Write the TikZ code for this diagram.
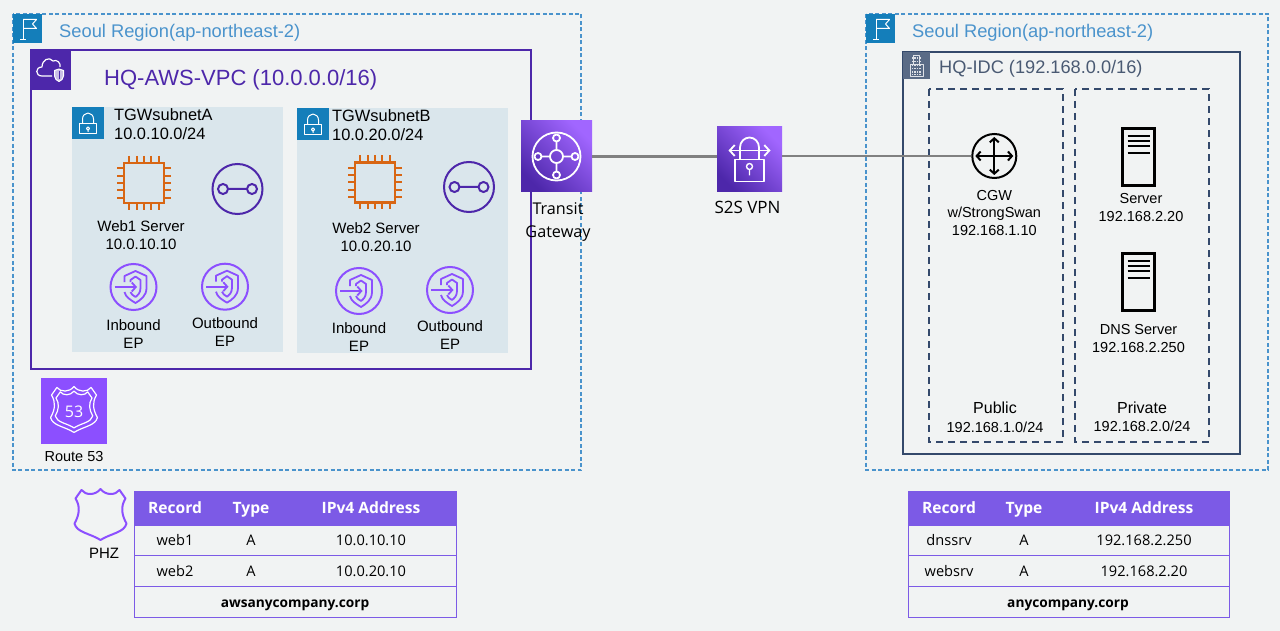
\documentclass[tikz,border=0pt]{standalone}
\usepackage{fontspec}
\setmainfont{Liberation Sans}
\newfontfamily\emberfont{Open Sans}
\usepackage{xcolor}
\usepackage{tikz}
\usetikzlibrary{positioning, arrows.meta, shapes.geometric}
\definecolor{pageGrey}{HTML}{F1F3F3}
\definecolor{regionBlue}{HTML}{4A93CC}
\definecolor{flagBlue}{HTML}{147EBA}
\definecolor{vpcPurple}{HTML}{4D27AA}
\definecolor{subnetBlue}{HTML}{DAE6EC}
\definecolor{chipOrange}{HTML}{D86613}
\definecolor{awsPurple}{HTML}{8C4FFF}
\definecolor{awsDeep}{HTML}{4D27AA}
\definecolor{awsLight}{HTML}{A166FF}
\definecolor{idcNavy}{HTML}{34496B}
\definecolor{idcGrey}{HTML}{5A6B86}
\definecolor{idcText}{HTML}{4A5A73}
\definecolor{wireGrey}{HTML}{808080}
\definecolor{tablePurple}{HTML}{7C5AE6}
\tikzset{
  regionbox/.style = {draw=regionBlue, line width=1.3pt, dash pattern=on 4pt off 2.5pt},
  vpcbox/.style    = {draw=vpcPurple, line width=2pt},
  subnetbox/.style = {fill=subnetBlue},
  idcbox/.style    = {draw=idcNavy, line width=2pt},
  zonebox/.style   = {draw=idcNavy, line width=1.5pt, dash pattern=on 7pt off 5pt},
  iconbox/.style   = {anchor=north west, inner sep=0pt, outer sep=0pt},
  gradbox/.style   = {iconbox, shade, bottom color=awsDeep, top color=awsLight, shading angle=-45},
  glyph/.style     = {draw=white, line width=1pt, line join=round},
  glyphb/.style    = {draw=white, line width=1.8pt, line join=round},
  epring/.style    = {circle, draw=awsPurple, line width=2pt, minimum size=46pt, inner sep=0pt},
  linkring/.style  = {circle, draw=vpcPurple, line width=2pt, minimum size=50pt, inner sep=0pt},
  chipbody/.style  = {draw=chipOrange, line width=2.6pt, minimum size=40pt, inner sep=0pt},
  srvbox/.style    = {draw=black, line width=2.6pt, minimum width=32pt, minimum height=57pt, inner sep=0pt},
  wire/.style      = {draw=wireGrey, line width=2.6pt},
  lbl/.style       = {inner sep=0pt, align=center, font=\fontsize{15}{18}\selectfont},
  sublbl/.style    = {inner sep=0pt, align=left, anchor=north west, font=\fontsize{16.4}{19}\selectfont},
  emblbl/.style    = {inner sep=0pt, align=center, font=\emberfont\fontsize{16.2}{23}\selectfont},
  thead/.style     = {fill=tablePurple, draw=tablePurple, line width=0.8pt, inner sep=0pt, outer sep=0pt},
  trow/.style      = {draw=tablePurple, line width=0.8pt, inner sep=0pt, outer sep=0pt},
  thtxt/.style     = {inner sep=0pt, text=white, text height=11pt, text depth=3pt, font=\emberfont\bfseries\fontsize{15.6}{18}\selectfont},
  tdtxt/.style     = {inner sep=0pt, text height=11pt, text depth=3pt, font=\emberfont\fontsize{14.6}{17}\selectfont},
  tftxt/.style     = {inner sep=0pt, text height=11pt, text depth=3pt, font=\emberfont\bfseries\fontsize{13.7}{17}\selectfont},
  flagglyph/.pic   = {
    \draw[glyph] (-4.5,-9) -- (-4.5,11) (-7.5,11) -- (-1.5,11);
    \draw[glyph] (-4.5,-9) -- (9,-9) -- (5,-4.5) -- (9,0) -- (-4.5,0);
  },
  lockglyph/.pic   = {
    \draw[glyph] (-8.5,1) rectangle (8.5,11);
    \draw[glyph] (-5.5,1) -- (-5.5,-4) arc[start angle=180, end angle=360, x radius=5.5, y radius=6] -- (5.5,1);
    \draw[glyph] (0,5.5) circle[radius=1.6] (0,7) -- (0,9);
  },
  cloudglyph/.pic  = {
    \draw[glyph, line width=1.2pt] (1,6) -- (-9,6) .. controls (-16,6) and (-16,-3) .. (-9,-3)
      .. controls (-9,-10) and (-2,-14) .. (2,-9) .. controls (6,-11) and (10,-7) .. (9,-3);
    \draw[glyph, fill=white!70!vpcPurple] (8,-1) -- (12.5,0.5) -- (12.5,6) .. controls (12.5,9) and (10,10.5) .. (8,11.5)
      .. controls (6,10.5) and (3.5,9) .. (3.5,6) -- (3.5,0.5) -- cycle;
    \draw[glyph, draw=vpcPurple] (8,1) -- (8,9);
  },
  chippins/.pic    = {
    \foreach \p in {-14.6,-7.3,0,7.3,14.6} {
      \draw[draw=chipOrange, line width=2pt] (\p,-27) -- (\p,-20) (\p,20) -- (\p,27);
      \draw[draw=chipOrange, line width=2pt] (-27,\p) -- (-20,\p) (20,\p) -- (27,\p);
    }
  },
  linkglyph/.pic   = {
    \draw[draw=vpcPurple, line width=2pt] (-14.5,0) circle[radius=5] (14.5,0) circle[radius=5] (-9.5,0) -- (9.5,0);
  },
  epglyph/.pic     = {
    \draw[draw=awsPurple, line width=1.8pt, line join=round] (-9,-5) -- (-9,-11) -- (2,-16) -- (13,-11) -- (13,1)
      .. controls (13,9) and (7,13) .. (2,16) .. controls (-3,13) and (-8,10) .. (-9,5);
    \draw[draw=awsPurple, line width=1.8pt, line join=round] (-3,-5) -- (-3,-7) -- (2,-10.5) -- (7,-7) -- (7,1)
      .. controls (7,6) and (4,8.5) .. (2,10) .. controls (0,8.5) and (-3,7) .. (-3,5);
    \draw[draw=awsPurple, line width=1.8pt, -{Straight Barb[length=4pt, width=9pt]}] (-19,0) -- (3.5,0);
  },
  tgwglyph/.pic    = {
    \draw[glyphb] (0,0) circle[radius=24] (0,0) circle[radius=6.5];
    \foreach \a in {0,90,180,270} {
      \draw[glyphb] (\a:18.5) circle[radius=3.5] (\a:15) -- (\a:6.5);
    }
  },
  vpnglyph/.pic    = {
    \draw[glyphb] (-14.5,0) rectangle (14.5,22);
    \draw[glyphb] (-9.5,0) -- (-9.5,-12) arc[start angle=180, end angle=360, x radius=9.5, y radius=10] -- (9.5,0);
    \draw[glyphb, {Straight Barb[length=5pt, width=11pt]}-{Straight Barb[length=5pt, width=11pt]}] (-21,-9) -- (21,-9);
    \draw[glyphb, line width=1.4pt] (0,7) circle[radius=3] (0,10) -- (0,16);
  },
  shieldglyph/.pic = {
    \draw[pic actions, line join=round] (-25,-16) -- (-19,-24.5) .. controls (-15,-19) and (-5,-19) .. (0,-25.5)
      .. controls (5,-19) and (15,-19) .. (19,-24.5) -- (25,-16) .. controls (20,-8) and (21,0) .. (26,9)
      .. controls (24,18) and (10,19) .. (0,25.5) .. controls (-10,19) and (-24,18) .. (-26,9)
      .. controls (-21,0) and (-20,-8) .. (-25,-16) -- cycle;
  },
  towerglyph/.pic  = {
    \draw[glyph, line width=0.9pt, draw=white!80!idcGrey] (-6.5,10.5) rectangle (6.5,-1) (-3.5,-1) -- (-3.5,-10.5) -- (3,-10.5) -- (3,-1);
    \foreach \q in {-7.5,-4,-0.5,3,6.5,9} {
      \draw[draw=white!80!idcGrey, line width=1.4pt, dash pattern=on 1.4pt off 1pt] (-4.5,\q) -- (4.5,\q);
    }
  },
  routerglyph/.pic = {
    \draw[draw=black, line width=2pt, {Straight Barb[length=4pt, width=9pt]}-{Straight Barb[length=4pt, width=9pt]}] (-19,0) -- (19,0);
    \draw[draw=black, line width=2pt, {Straight Barb[length=4pt, width=9pt]}-{Straight Barb[length=4pt, width=9pt]}] (0,-19) -- (0,19);
  },
  srvglyph/.pic    = {
    \foreach \q in {-21,-16,-11,-4} \draw[draw=black, line width=2.2pt] (-11,\q) -- (11,\q);
  }
}

\begin{document}
\begin{tikzpicture}[x=1pt, y=-1pt]
  \useasboundingbox (0,0) rectangle (1280,631);
  \fill[pageGrey] (0,0) rectangle (1280,631);

  % left region
  \draw[regionbox] (13,14) rectangle (581,470);
  \node[iconbox, fill=flagBlue, minimum size=29pt] (flagl) at (13,14) {};
  \pic at (flagl) {flagglyph};
  \node[anchor=west, inner sep=0pt, text=regionBlue, font=\fontsize{18.3}{21}\selectfont] (regl) at (59,33) {Seoul Region(ap-northeast-2)};
  \draw[vpcbox] (31,50) rectangle (531,369);
  \node[iconbox, fill=vpcPurple, minimum size=40pt] (vpcicon) at (31,50) {};
  \pic at (vpcicon) {cloudglyph};
  \node[anchor=west, inner sep=0pt, text=vpcPurple, font=\fontsize{22}{25}\selectfont] (vpclbl) at (104,80) {HQ-AWS-VPC (10.0.0.0/16)};

  % subnets
  \fill[subnetbox] (72,107) rectangle (283,352);
  \fill[subnetbox] (297,108) rectangle (508,353);
  \foreach \n/\x/\y/\d/\a/\b in {a/72/107/10/TGWsubnetA/10.0.10.0, b/297/108/3/TGWsubnetB/10.0.20.0} {
    \node[iconbox, fill=flagBlue, minimum size=32pt] (lock\n) at (\x,\y) {};
    \pic at (lock\n) {lockglyph};
    \node[sublbl, right=\d pt of lock\n.north east, anchor=north west, yshift=-1pt] (sub\n) {\a\\\b/24};
  }

  \node[chipbody] (chipa) at (144,183) {};
  \pic at (chipa) {chippins};
  \node[lbl, below=16pt of chipa, xshift=-3pt] (weba) {Web1 Server\\10.0.10.10};
  \node[chipbody] (chipb) at (375,182.5) {};
  \pic at (chipb) {chippins};
  \node[lbl, below=18.5pt of chipb, xshift=1pt] (webb) {Web2 Server\\10.0.20.10};
  \node[linkring] (linka) at (237.5,189) {};
  \pic at (linka) {linkglyph};
  \node[linkring] (linkb) at (469,187) {};
  \pic at (linkb) {linkglyph};

  \foreach \n/\x/\y/\d/\a in {ina/133.5/287/8/Inbound, outa/225/286.7/7/Outbound, inb/359/291/7/Inbound, outb/450/290/6/Outbound} {
    \node[epring] (\n) at (\x,\y) {};
    \pic at (\n) {epglyph};
    \node[lbl, below=\d pt of \n] (\n lbl) {\a\\EP};
  }

  % route 53
  \node[iconbox, fill=awsPurple, minimum size=66pt] (rt) at (41,377.5) {};
  \pic[draw=white, line width=1.2pt, scale=0.9] at ([yshift=1pt]rt.center) {shieldglyph};
  \pic[draw=white, line width=1.2pt, scale=0.72] at ([yshift=1pt]rt.center) {shieldglyph};
  \node[inner sep=0pt, text=white, font=\emberfont\fontsize{16}{18}\selectfont] (rtnum) at ([yshift=-1pt]rt.center) {53};
  \node[lbl, below=8pt of rt, font=\fontsize{14.5}{17}\selectfont] (rtlbl) {Route 53};

  % right region
  \draw[regionbox] (866,14) rectangle (1268,470);
  \node[iconbox, fill=flagBlue, minimum size=29pt] (flagr) at (866,14) {};
  \pic at (flagr) {flagglyph};
  \node[anchor=west, inner sep=0pt, text=regionBlue, font=\fontsize{18.3}{21}\selectfont] (regr) at (912,33) {Seoul Region(ap-northeast-2)};
  \draw[idcbox] (903,52) rectangle (1240,454);
  \node[iconbox, fill=idcGrey, minimum size=27pt] (idcicon) at (903,52) {};
  \pic at (idcicon) {towerglyph};
  \node[anchor=west, inner sep=0pt, text=idcText, font=\fontsize{18.2}{22}\selectfont] (idclbl) at (939,69) {HQ-IDC (192.168.0.0/16)};
  \draw[zonebox] (929,89) rectangle (1063,442);
  \draw[zonebox] (1075,89) rectangle (1209,442);

  % transit path
  \node[circle, draw=black, line width=2pt, minimum size=44pt, inner sep=0pt] (cgw) at (994.3,156) {};
  \pic at (cgw) {routerglyph};
  \node[gradbox, minimum size=71pt] (tgw) at (521,121) {};
  \node[gradbox, minimum size=65pt] (vpn) at (717,127) {};
  \draw[wire] (tgw) -- (vpn.west |- tgw);
  \draw[wire] (vpn.east |- cgw) -- (cgw);
  \pic at (tgw) {tgwglyph};
  \pic at (vpn) {vpnglyph};
  \node[emblbl, below=10pt of tgw, xshift=1.5pt] (tgwlbl) {Transit\\Gateway};
  \node[emblbl, below=9pt of vpn, xshift=-2pt, font=\emberfont\fontsize{17}{23}\selectfont] (vpnlbl) {S2S VPN};

  % idc hosts
  \node[lbl, below=11pt of cgw, font=\fontsize{14.5}{17.5}\selectfont] (cgwlbl) {CGW\\w/StrongSwan\\192.168.1.10};
  \node[srvbox] (srva) at (1138.5,157) {};
  \pic at (srva) {srvglyph};
  \node[lbl, below=6pt of srva, xshift=2.5pt, font=\fontsize{14.5}{18}\selectfont] (srvalbl) {Server\\192.168.2.20};
  \node[srvbox] (srvb) at (1138.5,282) {};
  \pic at (srvb) {srvglyph};
  \node[lbl, below=12pt of srvb, font=\fontsize{14.5}{18}\selectfont] (srvblbl) {DNS Server\\192.168.2.250};
  \node[lbl, font=\fontsize{16}{19}\selectfont] (publbl) at (995,408) {Public};
  \node[lbl, font=\fontsize{14.5}{19}\selectfont] (pubnet) at (995,427) {192.168.1.0/24};
  \node[lbl, font=\fontsize{16}{19}\selectfont] (prvlbl) at (1142,408) {Private};
  \node[lbl, font=\fontsize{14.5}{19}\selectfont] (prvnet) at (1142,426) {192.168.2.0/24};

  % hosted zone tables
  \pic[draw=awsPurple, line width=2pt] at (100.5,514.5) {shieldglyph};
  \node[lbl] (phz) at (104,553) {PHZ};

  \node[thead, anchor=north west, minimum width=322pt, minimum height=34pt] (hl) at (134,491) {};
  \node[trow, below=0pt of hl, minimum width=322pt, minimum height=30.5pt] (ral) {};
  \node[trow, below=0pt of ral, minimum width=322pt, minimum height=30.5pt] (rbl) {};
  \node[trow, below=0pt of rbl, minimum width=322pt, minimum height=31pt] (rcl) {};
  \foreach \n/\x/\a in {p/175/Record, q/251/Type, r/371/IPv4 Address} \node[thtxt] (hl\n) at (\x,509.5) {\a};
  \foreach \n/\x/\a/\b in {p/175/web1/web2, q/251/A/A, r/371/10.0.10.10/10.0.20.10} {
    \node[tdtxt] (al\n) at (\x,541) {\a};
    \node[tdtxt] (bl\n) at (\x,572) {\b};
  }
  \node[tftxt] (fl) at (295,603) {awsanycompany.corp};

  \node[thead, anchor=north west, minimum width=321pt, minimum height=34pt] (hr) at (908,491) {};
  \node[trow, below=0pt of hr, minimum width=321pt, minimum height=30.5pt] (rar) {};
  \node[trow, below=0pt of rar, minimum width=321pt, minimum height=30.5pt] (rbr) {};
  \node[trow, below=0pt of rbr, minimum width=321pt, minimum height=31pt] (rcr) {};
  \foreach \n/\x/\a in {p/949/Record, q/1024/Type, r/1144/IPv4 Address} \node[thtxt] (hr\n) at (\x,509.5) {\a};
  \foreach \n/\x/\a/\b in {p/949/dnssrv/websrv, q/1024/A/A, r/1144/192.168.2.250/192.168.2.20} {
    \node[tdtxt] (ar\n) at (\x,541) {\a};
    \node[tdtxt] (br\n) at (\x,572) {\b};
  }
  \node[tftxt] (fr) at (1068,603) {anycompany.corp};
\end{tikzpicture}
\end{document}
